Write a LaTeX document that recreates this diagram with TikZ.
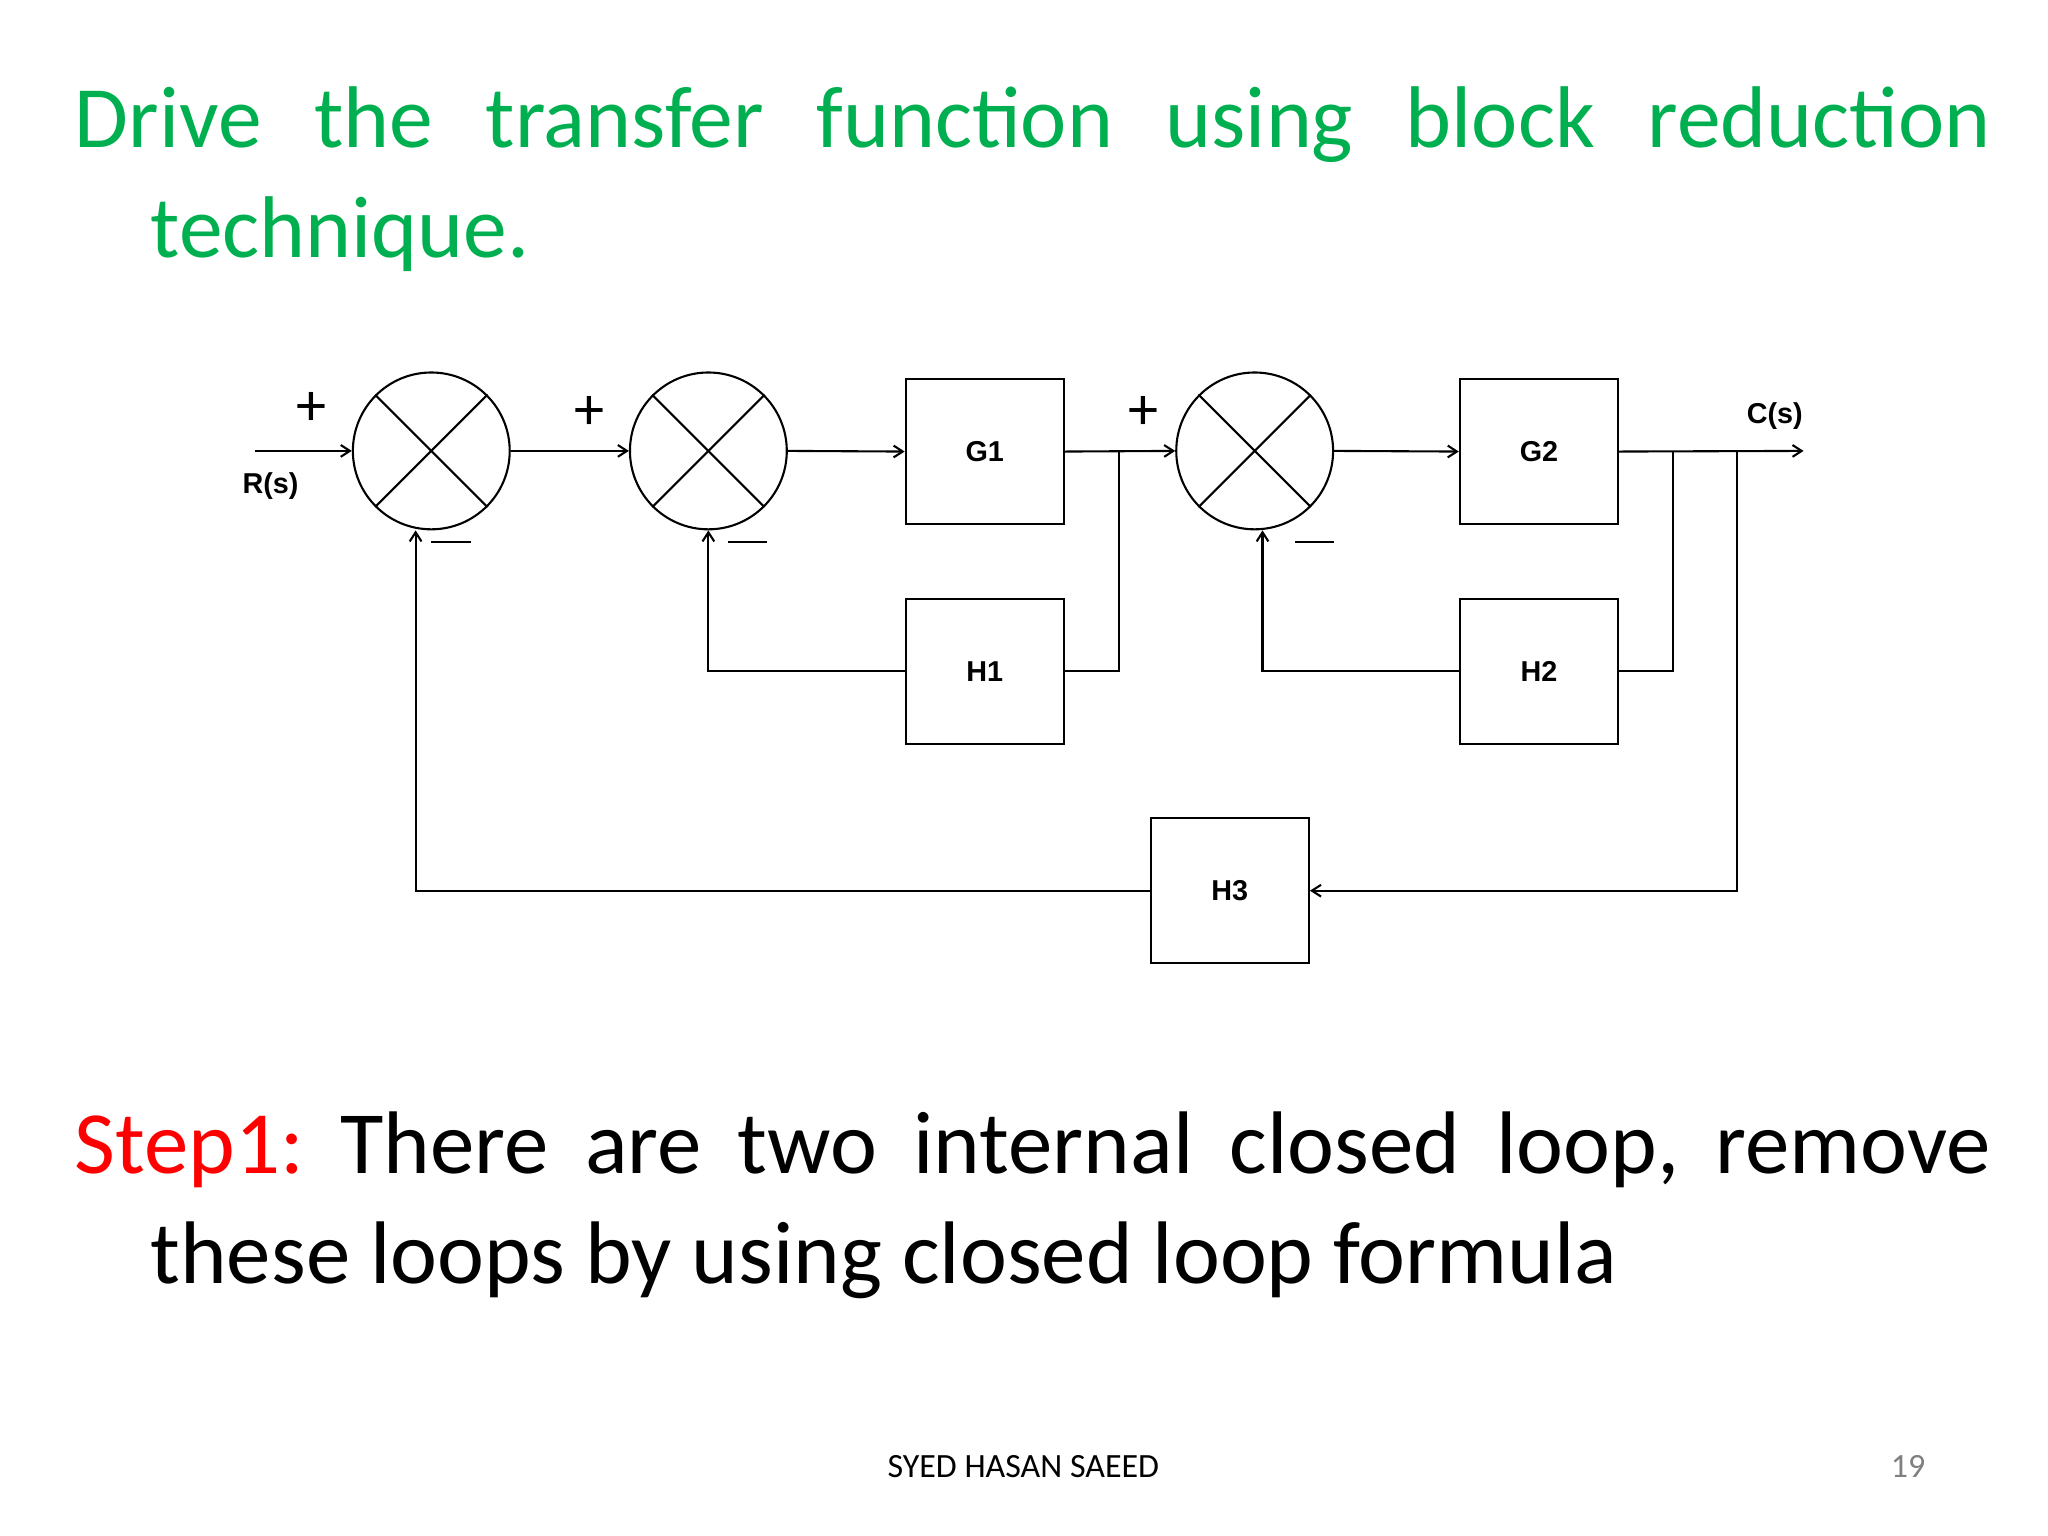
\documentclass[tikz,border=0pt]{standalone}
\usepackage{fontspec}
\setmainfont{Carlito}
\newfontfamily\arialb{Liberation Sans}
\usetikzlibrary{arrows.meta}
\definecolor{tgreen}{HTML}{00B050}
\begin{document}
\begin{tikzpicture}[x=1pt,y=-1pt,
  sumj/.style={draw,circle,minimum size=120pt,inner sep=0pt,line width=1.6pt},
  blk/.style={draw,minimum width=121pt,minimum height=111pt,line width=1.6pt,font=\arialb\bfseries\fontsize{22}{22}\selectfont},
  ln/.style={line width=1.6pt},
  arr/.style={ln,-{Straight Barb[length=7pt,width=9pt]}},
  sgn/.style={font=\fontsize{46}{46}\selectfont},
  lbl/.style={font=\arialb\bfseries\fontsize{22}{22}\selectfont}]
\useasboundingbox (0,0) rectangle (1567,1175);
\fill[white] (0,0) rectangle (1567,1175);
% title
\node[anchor=base west,text=tgreen,font=\fontsize{67}{67}\selectfont,inner sep=0] (t1) at (57,113) {\hbox to 1466pt{Drive\hfill the\hfill transfer\hfill function\hfill using\hfill block\hfill reduction}};
\node[anchor=base west,text=tgreen,font=\fontsize{67}{67}\selectfont,inner sep=0] (t2) at (115,197) {technique.};
% step text
\node[anchor=base west,font=\fontsize{68}{68}\selectfont,inner sep=0] (s1) at (57,898) {\hbox to 1466pt{\textcolor{red}{Step1:}\hfill There\hfill are\hfill two\hfill internal\hfill closed\hfill loop,\hfill remove}};
\node[anchor=base west,font=\fontsize{68}{68}\selectfont,inner sep=0] (s2) at (115,982) {these loops by using closed loop formula};
\node[font=\fontsize{26}{26}\selectfont] (ft) at (783,1122) {SYED HASAN SAEED};
\node[font=\fontsize{26}{26}\selectfont,text=gray] (pg) at (1460,1122) {19};
% diagram
\node[sumj] (S1) at (330,345) {};
\node[sumj] (S2) at (542,345) {};
\node[sumj] (S3) at (960,345) {};
\foreach \s in {S1,S2,S3}{
  \draw[ln] (\s.45) -- (\s.225); \draw[ln] (\s.135) -- (\s.315);}
\node[blk] (G1) at (753.5,345.5) {G1};
\node[blk] (G2) at (1177.5,345.5) {G2};
\node[blk] (H1) at (753.5,513.5) {H1};
\node[blk] (H2) at (1177.5,513.5) {H2};
\node[blk] (H3) at (941,681.5) {H3};
\coordinate (in) at (195,345);
\coordinate (out) at (1380,345);
\coordinate (b1) at (856,345);
\coordinate (b2) at (1280,345);
\coordinate (b3) at (1329,345);
\draw[arr] (in) -- (S1.west);
\draw[arr] (S1.east) -- (S2.west);
\draw[arr] (S2.east) -- (G1.west);
\draw[arr] (G1.east) -- (S3.west);
\draw[arr] (S3.east) -- (G2.west);
\draw[arr] (G2.east) -- (out);
\draw[ln] (b1) |- (H1.east);
\draw[arr] (H1.west) -| (S2.south);
\draw[ln] (b2) |- (H2.east);
\draw[arr] (H2.west) -| ([xshift=6pt]S3.south);
\draw[arr] (b3) |- (H3.east);
\draw[arr] (H3.west) -| ([xshift=-12pt]S1.south);
% signs and labels
\node[sgn] (p1) at (238,313) {+};
\node[sgn] (p2) at (451,316) {+};
\node[sgn] (p3) at (875,316) {+};
\node[sgn] (m1) at (345,415) {\rule{30pt}{1.6pt}};
\node[sgn] (m2) at (572,415) {\rule{30pt}{1.6pt}};
\node[sgn] (m3) at (1006,415) {\rule{30pt}{1.6pt}};
\node[lbl] (rs) at (207,372) {R(s)};
\node[lbl] (cs) at (1358,318) {C(s)};
\end{tikzpicture}
\end{document}
